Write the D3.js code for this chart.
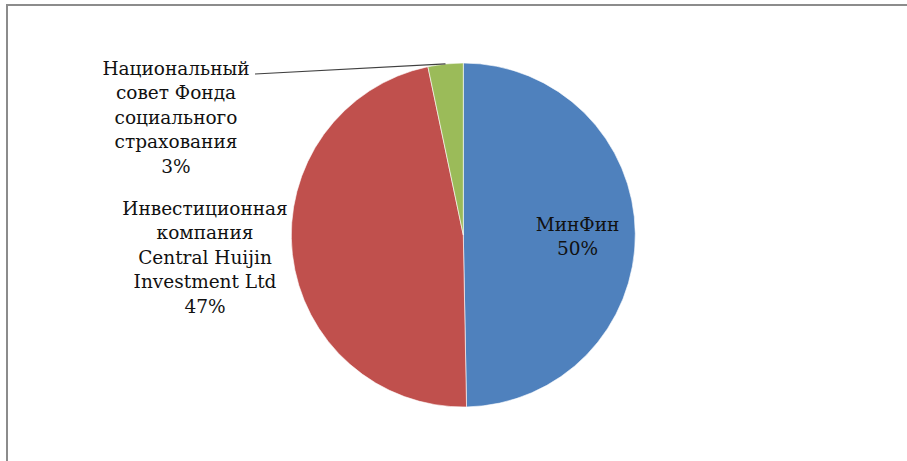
<!DOCTYPE html>
<html>
<head>
<meta charset="utf-8">
<script src="https://cdn.jsdelivr.net/npm/d3@7"></script>
<style>
  body { margin: 0; background: #fff; }
  svg { display: block; }
  .lbl { font-family: "DejaVu Serif", "Liberation Serif", serif; font-size: 18.5px; fill: #111; }
</style>
</head>
<body>
<script>
var names = ["МинФин", "Инвестиционная компания Central Huijin Investment Ltd", "Национальный совет Фонда социального страхования"];
var values = [49.7, 47.0, 3.3];
var colors = ["#4F81BD", "#C0504D", "#9BBB59"];
// label lines as they wrap in the picture
var labelLines = [
    ["МинФин"],
    ["Инвестиционная", "компания", "Central Huijin", "Investment Ltd"],
    ["Национальный", "совет Фонда", "социального", "страхования"]
];

var loadChart = function(){
    var W = 907, H = 461;
    var cx = 463.3, cy = 235, r = 172;
    var svg = d3.select("body").append("svg")
        .attr("width", W)
        .attr("height", H);

    // outer frame, runs off the right and bottom edge
    svg.append("rect")
        .attr("x", 7).attr("y", 5)
        .attr("width", 1200).attr("height", 1200)
        .attr("fill", "none")
        .attr("stroke", "#8c8c8c")
        .attr("stroke-width", 2);

    var total = d3.sum(values);
    var data = values.map(function(v, i){ return {name: names[i], value: v, lines: labelLines[i]}; });
    var pie = d3.pie().sort(null).value(function(d){ return d.value; });
    var arcs = pie(data);
    var arc = d3.arc().innerRadius(0).outerRadius(r);

    var g = svg.append("g").attr("transform", "translate(" + cx + "," + cy + ")");
    g.selectAll("path").data(arcs).enter().append("path")
        .attr("d", arc)
        .attr("fill", function(d, i){ return colors[i]; })
        .attr("stroke", "#fff")
        .attr("stroke-width", 0.6);

    // label positions (centre x, first baseline y) relative to the pie centre
    var labelPos = [
        {x: 577.5 - cx, y: 231 - cy},
        {x: 205 - cx, y: 215 - cy},
        {x: 176 - cx, y: 75 - cy}
    ];
    var lh = 24.4;

    // leader line for the small slice
    var small = arcs[2];
    var mid = (small.startAngle + small.endAngle) / 2;
    var edge = [Math.sin(mid) * r, -Math.cos(mid) * r];
    g.append("line")
        .attr("x1", 255 - cx).attr("y1", 74 - cy)
        .attr("x2", edge[0]).attr("y2", edge[1])
        .attr("stroke", "#404040")
        .attr("stroke-width", 1.2);

    arcs.forEach(function(d, i){
        var t = g.append("text").attr("class", "lbl")
            .attr("text-anchor", "middle")
            .attr("transform", "translate(" + labelPos[i].x + "," + labelPos[i].y + ")");
        var lines = d.data.lines.concat([Math.round(d.data.value / total * 100) + "%"]);
        lines.forEach(function(s, k){
            t.append("tspan").attr("x", 0).attr("y", k * lh).text(s);
        });
    });
};

window.onload = loadChart;
</script>
</body>
</html>
